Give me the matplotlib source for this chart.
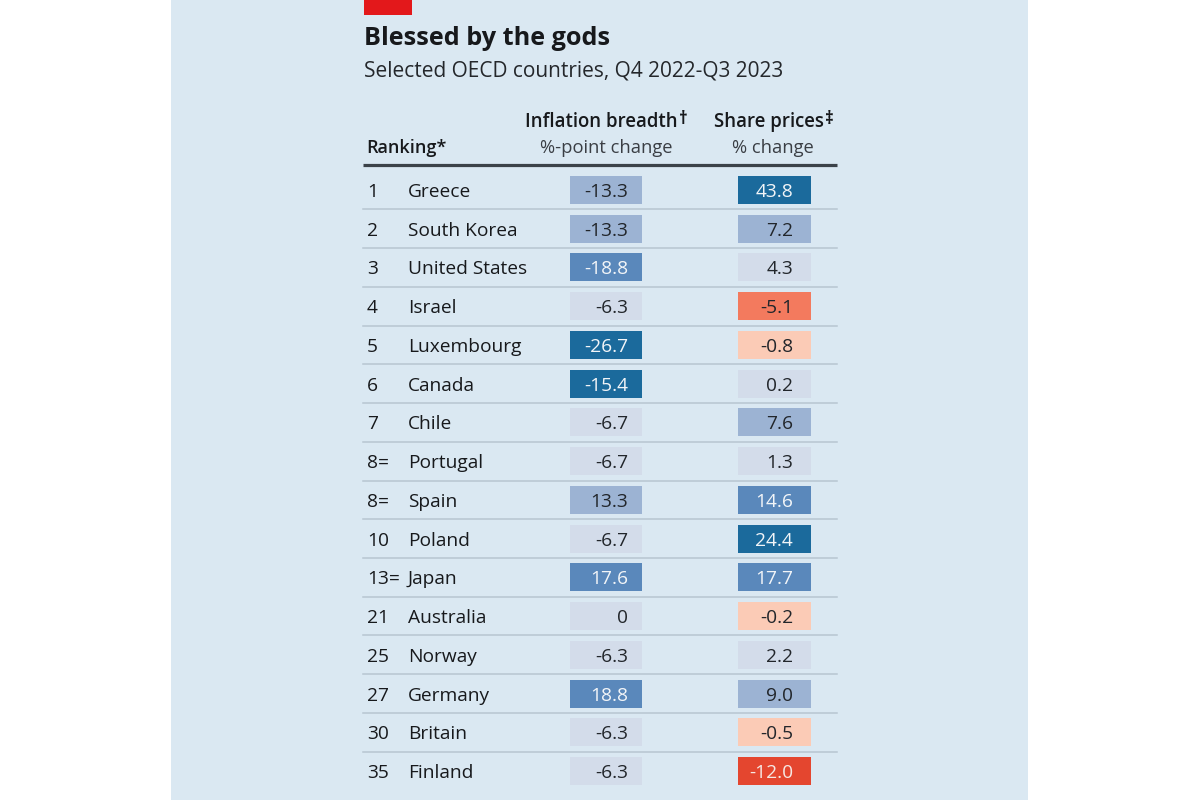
import matplotlib
matplotlib.use("Agg")
import matplotlib.pyplot as plt
from matplotlib.patches import Rectangle

# ---------------- data ----------------
title = "Blessed by the gods"
subtitle = "Selected OECD countries, Q4 2022-Q3 2023"
rank_header = "Ranking*"
col1_header = "Inflation breadth"
col1_mark = "\u2020"
col1_unit = "%-point change"
col2_header = "Share prices"
col2_mark = "\u2021"
col2_unit = "% change"

ranks = ["1", "2", "3", "4", "5", "6", "7", "8=", "8=", "10", "13=", "21", "25", "27", "30", "35"]
countries = ["Greece", "South Korea", "United States", "Israel", "Luxembourg", "Canada",
             "Chile", "Portugal", "Spain", "Poland", "Japan", "Australia", "Norway",
             "Germany", "Britain", "Finland"]
inflation_breadth = [-13.3, -13.3, -18.8, -6.3, -26.7, -15.4, -6.7, -6.7, 13.3, -6.7,
                     17.6, 0, -6.3, 18.8, -6.3, -6.3]
share_prices = [43.8, 7.2, 4.3, -5.1, -0.8, 0.2, 7.6, 1.3, 14.6, 24.4, 17.7, -0.2,
                2.2, 9.0, -0.5, -12.0]
# colour band of each cell (as shown in the table)
inflation_band = ["b2", "b2", "b3", "b1", "b4", "b4", "b1", "b1", "b2", "b1",
                  "b3", "b1", "b1", "b3", "b1", "b1"]
share_band = ["b4", "b2", "b1", "r2", "r1", "b1", "b2", "b1", "b3", "b4",
              "b3", "r1", "b1", "b2", "r1", "r3"]

# ---------------- styles ----------------
band_colors = {"b4": "#1b6a9c", "b3": "#5a88bb", "b2": "#9cb3d3", "b1": "#d3dcea",
               "r1": "#fbcbb6", "r2": "#f37a5e", "r3": "#e4462f"}
band_text = {"b4": "#f2f5f8", "b3": "#f2f5f8", "b2": "#22262b", "b1": "#22262b",
             "r1": "#22262b", "r2": "#22262b", "r3": "#f6e8e4"}
FAM = ["Open Sans", "DejaVu Sans"]
DARK = "#17191c"
TXT = "#24272b"
BG = "#dae8f2"

fig = plt.figure(figsize=(12, 8), dpi=100)
fig.patch.set_facecolor("white")
ax = fig.add_axes([0, 0, 1, 1])
ax.set_xlim(0, 1200)
ax.set_ylim(800, 0)
ax.axis("off")
renderer = fig.canvas.get_renderer()


def fit(s, target, weight="normal", base=20.0):
    t = ax.text(0, 0, s, fontsize=base, family=FAM, weight=weight)
    w = t.get_window_extent(renderer).width
    t.remove()
    return base * target / w


def width_px(s, size, weight="normal"):
    t = ax.text(0, 0, s, fontsize=size, family=FAM, weight=weight)
    w = t.get_window_extent(renderer).width
    t.remove()
    return w


# panel background and red tag
ax.add_patch(Rectangle((171, 0), 857, 800, facecolor=BG, edgecolor="none", zorder=0))
ax.add_patch(Rectangle((364, 0), 48, 15, facecolor="#e3181b", edgecolor="none", zorder=1))

# font sizes fitted to measured widths
fs_title = fit(title, 246, "bold")
fs_sub = fit(subtitle, 419)
fs_head = fit(col2_header, 110, "semibold")
fs_unit = fit(col1_unit, 132)
fs_row = fit("United States", 119)
fs_rank_head = fit(rank_header, 80, "semibold")

ax.text(364, 45, title, fontsize=fs_title, family=FAM, weight="bold", color=DARK,
        ha="left", va="baseline")
ax.text(364, 76, subtitle, fontsize=fs_sub, family=FAM, color=TXT, ha="left", va="baseline")

# headers
c1x, c2x = 606, 773
for cx, head, mark, unit in [(c1x, col1_header, col1_mark, col1_unit),
                             (c2x, col2_header, col2_mark, col2_unit)]:
    w_head = width_px(head, fs_head, "semibold")
    w_mark = width_px(mark, fs_head * 0.9, "bold")
    x0 = cx - (w_head + w_mark) / 2
    ax.text(x0, 127, head, fontsize=fs_head, family=FAM, weight="semibold", color=DARK,
            ha="left", va="baseline")
    ax.text(x0 + w_head + 1, 124, mark, fontsize=fs_head * 0.9, family=FAM,
            weight="bold", color=DARK, ha="left", va="baseline")
    ax.text(cx, 153, unit, fontsize=fs_unit, family=FAM, color="#3a3e44", ha="center",
            va="baseline")
ax.text(366, 153, rank_header, fontsize=fs_rank_head, family=FAM, weight="semibold",
        color=DARK, ha="left", va="baseline")
ax.plot([363, 837], [165, 165], color="#3b4249", lw=2.3, solid_capstyle="butt", zorder=2)

# rows
n = len(countries)
y_first, y_last = 190.0, 771.0
step = (y_last - y_first) / (n - 1)
ys = [y_first + i * step for i in range(n)]

ax.barh(ys, [72] * n, left=570, height=28,
        color=[band_colors[b] for b in inflation_band], zorder=2)
ax.barh(ys, [73] * n, left=738, height=28,
        color=[band_colors[b] for b in share_band], zorder=2)


def lab(v):
    return "0" if v == 0 else f"{v:.1f}"


for i, y in enumerate(ys):
    base = y + 7
    ax.text(367, base, ranks[i], fontsize=fs_row, family=FAM, color=DARK, ha="left",
            va="baseline", zorder=3)
    ax.text(408, base, countries[i], fontsize=fs_row, family=FAM, color=DARK, ha="left",
            va="baseline", zorder=3)
    ax.text(628, base, lab(inflation_breadth[i]), fontsize=fs_row, family=FAM,
            color=band_text[inflation_band[i]], ha="right", va="baseline", zorder=3)
    ax.text(793, base, lab(share_prices[i]), fontsize=fs_row, family=FAM,
            color=band_text[share_band[i]], ha="right", va="baseline", zorder=3)
    if i < n - 1:
        ax.plot([363, 837], [y + step / 2] * 2, color="#b7c5d1", lw=1.1, zorder=1)

fig.savefig("out.png", dpi=100, facecolor=fig.get_facecolor())
